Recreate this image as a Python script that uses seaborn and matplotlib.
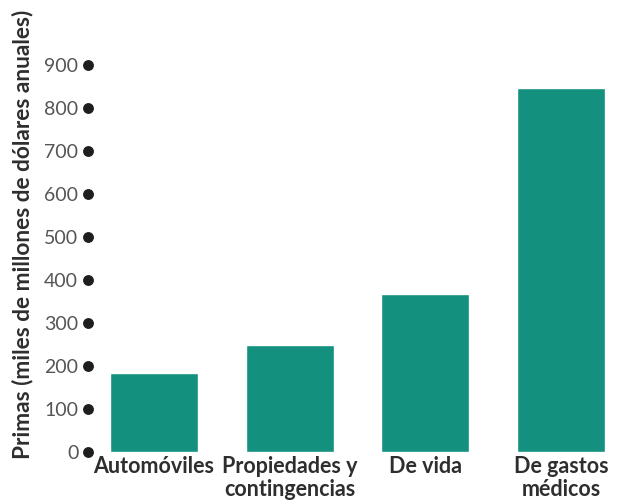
import matplotlib
matplotlib.use("Agg")
import matplotlib.pyplot as plt
import seaborn as sns
import pandas as pd

categorias = ["Automóviles", "Propiedades y\ncontingencias", "De vida", "De gastos\nmédicos"]
primas = [184, 248, 367, 846]
ticks = [0, 100, 200, 300, 400, 500, 600, 700, 800, 900]

sns.set_theme(style="white")
plt.rcParams["font.family"] = ["Lato", "DejaVu Sans"]

df = pd.DataFrame({"categoria": categorias, "prima": primas})

fig = plt.figure(figsize=(6.24, 5.03), dpi=100)
ax = fig.add_axes([0.141, 0.101, 0.845, 0.822])

sns.barplot(data=df, x="categoria", y="prima", color="#13907e",
            saturation=1, width=0.65, ax=ax)

ax.set_xlim(-0.486, 3.4)
ax.set_ylim(0, 960)

# y ticks: numbers followed by round black dots on the axis line
ax.set_yticks(ticks)
ax.set_yticklabels([str(t) for t in ticks], fontsize=14, color="#555555")
ax.tick_params(axis="y", left=False, length=0, pad=7)
ax.plot([0] * len(ticks), ticks, linestyle="none", marker="o", markersize=6.8,
        color="#1e1e1e", transform=ax.get_yaxis_transform(), clip_on=False,
        zorder=5)

ax.set_xticks(range(len(categorias)))
ax.set_xticklabels(categorias, fontsize=15.5, fontweight="bold", color="#2e2e2e",
                   linespacing=1.12)
ax.tick_params(axis="x", bottom=False, length=0, pad=3)

for s in ax.spines.values():
    s.set_visible(False)

ax.set_xlabel("")
ax.set_ylabel("Primas (miles de millones de dólares anuales)", fontsize=16.3,
              fontweight="bold", color="#2e2e2e")
ax.yaxis.set_label_coords(-0.104, 0.528)

fig.savefig("out.png", dpi=100)
